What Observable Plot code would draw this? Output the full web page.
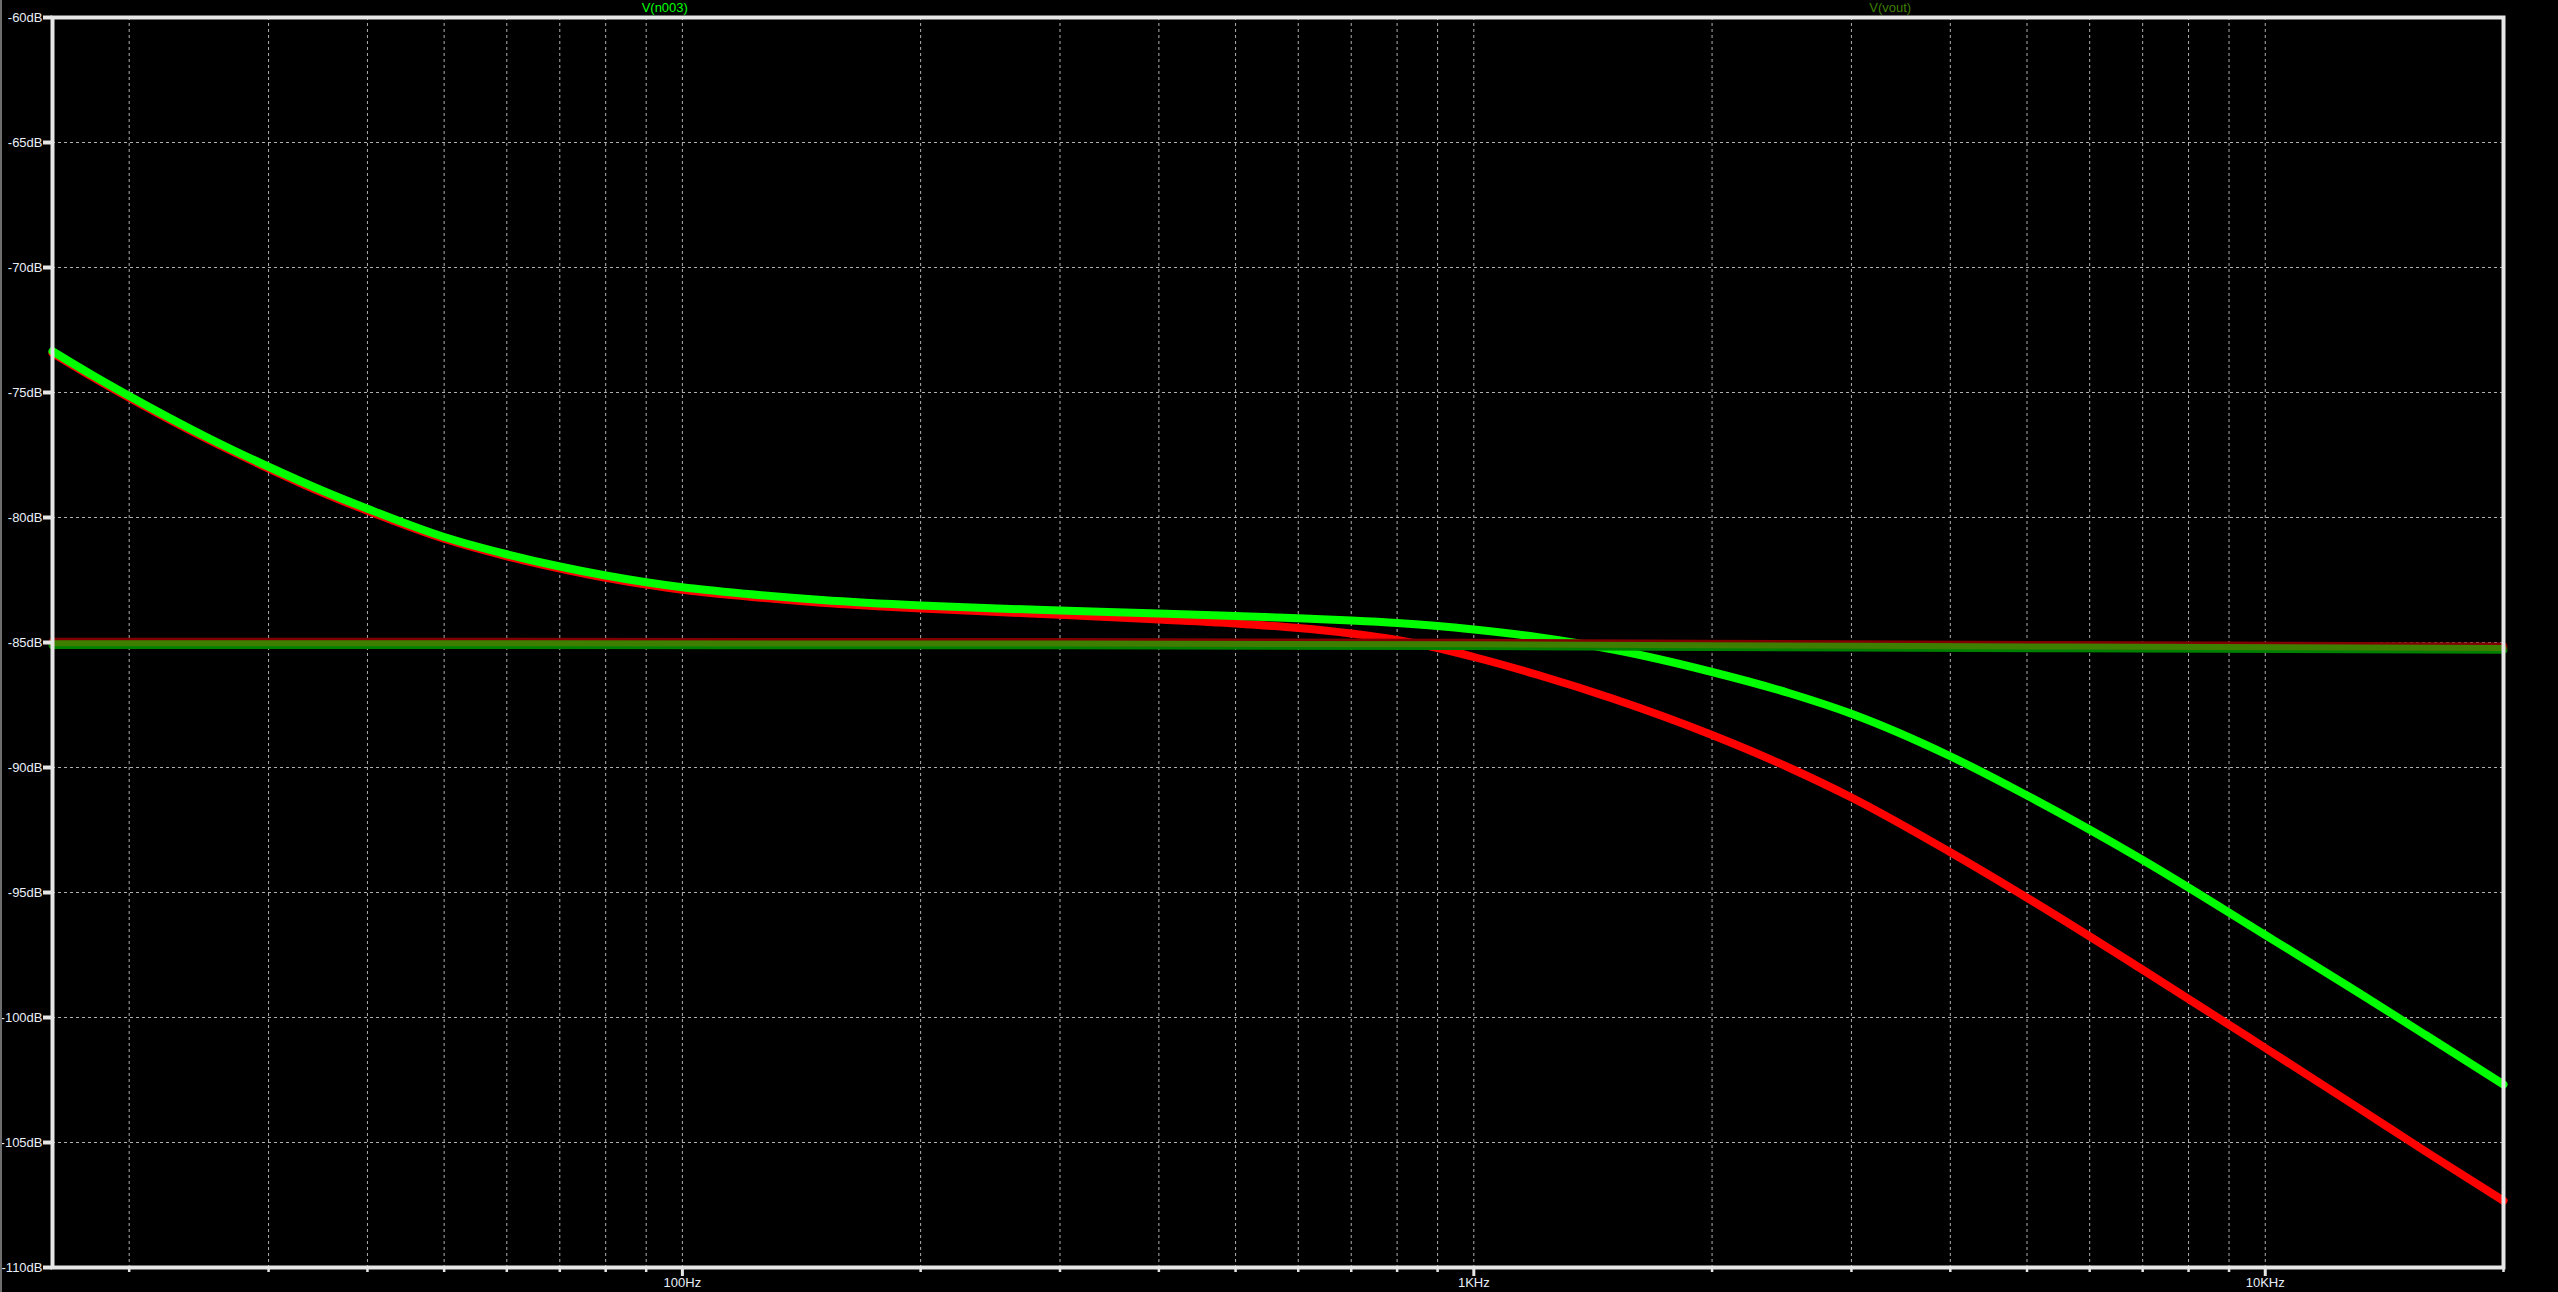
<!DOCTYPE html>
<html><head><meta charset="utf-8">
<script src="https://cdn.jsdelivr.net/npm/d3@7"></script>
<script src="https://cdn.jsdelivr.net/npm/@observablehq/plot@0.6"></script>
<style>
html,body{margin:0;padding:0;background:#000;}
#wrap{position:relative;width:2558px;height:1292px;overflow:hidden;background:#000;}
#legend{position:absolute;left:0;top:0;width:2558px;height:15px;font:13px "Liberation Sans",Arial,sans-serif;line-height:15px;z-index:2;}
#legend span{position:absolute;top:0;transform:translateX(-50%);white-space:nowrap;}
#edge{position:absolute;left:0;top:0;width:2px;height:1292px;background:#6e6e6e;z-index:3;}
#chart svg{display:block;}
</style></head><body>
<div id="wrap"><div id="chart"></div><div id="legend"></div><div id="edge"></div></div>
<script>
// ---- data ----
const freqs   = [16, 18, 20, 25, 30, 35, 40, 50, 60, 70, 80, 90, 100, 120, 150, 200, 250, 300, 400, 500, 600, 700, 800, 900, 1000, 1200, 1500, 2000, 2500, 3000, 4000, 5000, 7000, 10000, 13000, 16000, 20000];
const vN003   = [-73.35, -74.32, -75.14, -76.77, -77.97, -78.91, -79.65, -80.78, -81.47, -81.96, -82.32, -82.59, -82.79, -83.05, -83.3, -83.52, -83.64, -83.72, -83.84, -83.94, -84.03, -84.12, -84.22, -84.34, -84.48, -84.78, -85.28, -86.18, -87.02, -87.85, -89.55, -91.12, -93.7, -96.7, -98.93, -100.73, -102.68];
const vRed    = [-73.42, -74.39, -75.21, -76.84, -78.04, -78.99, -79.73, -80.85, -81.55, -82.04, -82.41, -82.68, -82.89, -83.15, -83.41, -83.64, -83.78, -83.89, -84.08, -84.24, -84.42, -84.64, -84.9, -85.22, -85.58, -86.28, -87.25, -88.7, -90.0, -91.2, -93.39, -95.21, -98.09, -101.22, -103.54, -105.39, -107.33];
const flatFreqs = [16, 300, 1000, 3000, 20000];
const flatRed   = [-84.97, -84.98, -85.01, -85.07, -85.16];
const flatOlive = [-85.03, -85.04, -85.07, -85.13, -85.22];
const flatGreen = [-85.1, -85.11, -85.14, -85.2, -85.29];
const seriesNames  = ["V(n003)", "V(vout)"];
const seriesColors = ["#00ff00", "#3f7f00"];
const yTicks = [-60, -65, -70, -75, -80, -85, -90, -95, -100, -105, -110];
const xMajor = [100, 1000, 10000];
const xMajorLabels = ["100Hz", "1KHz", "10KHz"];
const xMinor = [20, 30, 40, 50, 60, 70, 80, 90, 200, 300, 400, 500, 600, 700, 800, 900, 2000, 3000, 4000, 5000, 6000, 7000, 8000, 9000, 20000];

// ---- build ----
const toRows = (fs, vs) => fs.map((f, i) => ({f, db: vs[i]}));
const labelMap = new Map(xMajor.map((v, i) => [v, xMajorLabels[i]]));
const W = 2558, H = 1292;
const mL = 52, mR = 55, mT = 17, mB = 25;
const lineOpts = (stroke, w) => ({x: "f", y: "db", stroke, strokeWidth: w, curve: "monotone-x", strokeLinecap: "round", strokeLinejoin: "round"});
const gridColor = "#b0b0b0", frameColor = "#e6e6e6";

const chart = Plot.plot({
  width: W, height: H,
  marginLeft: mL, marginRight: mR, marginTop: mT, marginBottom: mB,
  style: {background: "#000", color: "#e8eef8", fontFamily: '"Liberation Sans", Arial, sans-serif', fontSize: "13px"},
  x: {type: "log", domain: [16, 20000]},
  y: {domain: [-110, -60]},
  marks: [
    Plot.gridX([...xMinor.slice(0, -1), ...xMajor], {stroke: gridColor, strokeOpacity: 1, strokeDasharray: "3,3"}),
    Plot.gridY(yTicks.slice(1, -1), {stroke: gridColor, strokeOpacity: 1, strokeDasharray: "3,3"}),
    Plot.line(toRows(freqs, vRed), lineOpts("#ff0000", 8)),
    Plot.line(toRows(freqs, vN003), lineOpts(seriesColors[0], 8)),
    Plot.line(toRows(flatFreqs, flatGreen), lineOpts("#008000", 8)),
    Plot.line(toRows(flatFreqs, flatRed), lineOpts("#800000", 8)),
    Plot.line(toRows(flatFreqs, flatOlive), lineOpts(seriesColors[1], 6)),
    Plot.frame({stroke: frameColor, strokeWidth: 4}),
    Plot.axisY(yTicks, {tickSize: 9, tickPadding: 1, stroke: frameColor, strokeWidth: 4, tickFormat: d => d + "dB", label: null}),
    Plot.axisX(xMinor, {tickSize: 5, tickPadding: 0, stroke: frameColor, strokeWidth: 2.5, tickFormat: () => "", label: null}),
    Plot.axisX(xMajor, {tickSize: 9, tickPadding: 1, stroke: frameColor, strokeWidth: 3, tickFormat: d => labelMap.get(d), label: null})
  ]
});
document.getElementById("chart").appendChild(chart);

// legend over the top margin, labels at 1/4 and 3/4 of the plot width
const legend = document.getElementById("legend");
const plotW = W - mL - mR;
seriesNames.forEach((name, i) => {
  const s = document.createElement("span");
  s.textContent = name;
  s.style.color = seriesColors[i];
  s.style.left = (mL + plotW * (2 * i + 1) / 4) + "px";
  legend.appendChild(s);
});
</script>
</body></html>
